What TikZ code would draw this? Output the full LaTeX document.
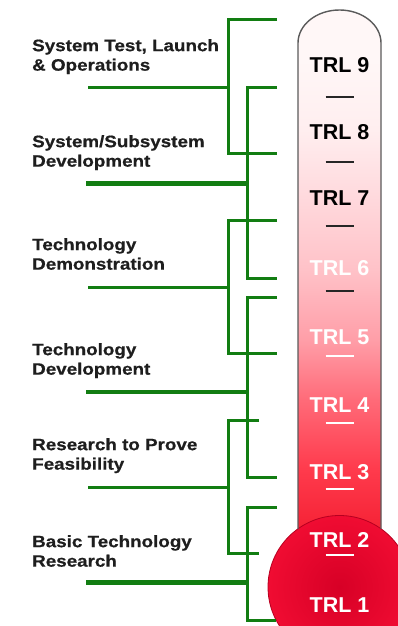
\documentclass[tikz,border=0pt]{standalone}
\usepackage{fontspec}
\newfontfamily\lblfont[FakeStretch=1.14,FakeBold=0.6]{Liberation Sans Bold}
\newfontfamily\trlfont{Liberation Sans Bold}
\definecolor{lgreen}{RGB}{18,125,18}
\definecolor{lbltext}{RGB}{30,30,30}
\definecolor{tubeA}{RGB}{255,247,247}
\definecolor{tubeB}{RGB}{255,238,239}
\definecolor{tubeC}{RGB}{255,216,220}
\definecolor{tubeD}{RGB}{255,194,200}
\definecolor{tubeE}{RGB}{255,158,168}
\definecolor{tubeF}{RGB}{255,106,120}
\definecolor{tubeG}{RGB}{255,58,76}
\definecolor{tubeH}{RGB}{245,34,53}
\definecolor{bulbIn}{RGB}{215,0,38}
\definecolor{bulbOut}{RGB}{240,12,50}
\definecolor{tubeline}{RGB}{90,90,90}
\pgfdeclareverticalshading{tubeshade}{100bp}{%
  color(0bp)=(tubeH); color(25bp)=(tubeH); color(27.7bp)=(tubeH);
  color(33.2bp)=(tubeG); color(39.5bp)=(tubeF); color(45bp)=(tubeE);
  color(51.4bp)=(tubeD); color(57.7bp)=(tubeC); color(64.1bp)=(tubeB);
  color(70.5bp)=(tubeA); color(75bp)=(tubeA); color(100bp)=(tubeA)}
\tikzset{
  gline/.style={draw=lgreen, line width=3pt, line cap=butt, line join=miter},
  gthick/.style={draw=lgreen, line width=5pt, line cap=butt},
  lbl/.style={font=\lblfont\fontsize{16.5}{19.5}\selectfont, text=lbltext, align=left, anchor=north west, inner sep=0pt},
  trl/.style={font=\trlfont\fontsize{21.5}{24}\selectfont, inner sep=0pt},
  darktrl/.style={trl, text=black},
  lighttrl/.style={trl, text=white},
  darkdash/.style={draw=black!85, line width=2.2pt},
  lightdash/.style={draw=white, line width=2.2pt}
}
\begin{document}
\begin{tikzpicture}[x=1pt, y=-1pt]
\useasboundingbox (0,0) rectangle (398,626);
\clip (0,0) rectangle (398,626);
% thermometer tube
\path[shading=tubeshade] (298,560) -- (298,43) arc[start angle=180, end angle=0, x radius=41.5pt, y radius=33pt] -- (381,560) -- cycle;
% bulb
\shade[inner color=bulbIn, outer color=bulbOut] (339.5,587) circle[radius=71.5pt];
\draw[draw=bulbIn!85!black, line width=0.8pt] (339.5,587) circle[radius=71.5pt];
% tube outline
\draw[tubeline, line width=1.4pt] (298,529) -- (298,43) arc[start angle=180, end angle=0, x radius=41.5pt, y radius=33pt] -- (381,529);
% TRL labels
\node[darktrl] (t9) at (339.5,65) {TRL 9};
\node[darktrl] (t8) at (339.5,132) {TRL 8};
\node[darktrl] (t7) at (339.5,198) {TRL 7};
\node[lighttrl] (t6) at (339.5,268) {TRL 6};
\node[lighttrl] (t5) at (339.5,337) {TRL 5};
\node[lighttrl] (t4) at (339.5,405) {TRL 4};
\node[lighttrl] (t3) at (339.5,472) {TRL 3};
\node[lighttrl] (t2) at (339.5,540) {TRL 2};
\node[lighttrl] (t1) at (339.5,605) {TRL 1};
% separators
\draw[darkdash] (325.5,97) -- (353.5,97);
\draw[darkdash] (325.5,162) -- (353.5,162);
\draw[darkdash] (325.5,226) -- (353.5,226);
\draw[darkdash] (325.5,291) -- (353.5,291);
\draw[lightdash] (325.5,356) -- (353.5,356);
\draw[lightdash] (325.5,423) -- (353.5,423);
\draw[lightdash] (325.5,489) -- (353.5,489);
\draw[lightdash] (325.5,555) -- (353.5,555);
% brackets
\draw[gline] (277,20) -- (228,20) -- (228,153) -- (277,153);
\draw[gline] (88,87) -- (228,87);
\draw[gline] (277,87) -- (247,87) -- (247,278) -- (277,278);
\draw[gthick] (86,183) -- (247,183);
\draw[gline] (277,220) -- (228,220) -- (228,353) -- (277,353);
\draw[gline] (88,287) -- (228,287);
\draw[gline] (277,297) -- (247,297) -- (247,477) -- (277,477);
\draw[gline, line width=4pt] (86,392) -- (247,392);
\draw[gline] (259,420) -- (228,420) -- (228,553) -- (259,553);
\draw[gline] (88,487) -- (228,487);
\draw[gline] (277,507) -- (247,507) -- (247,620) -- (276,620);
\draw[gthick] (86,582) -- (247,582);
% labels
\node[lbl] (l1) at (32,39) {System Test, Launch\\\& Operations};
\node[lbl] (l2) at (32,135) {System/Subsystem\\Development};
\node[lbl] (l3) at (32,238) {Technology\\Demonstration};
\node[lbl] (l4) at (32,343) {Technology\\Development};
\node[lbl] (l5) at (32,438) {Research to Prove\\Feasibility};
\node[lbl] (l6) at (32,535) {Basic Technology\\Research};
\end{tikzpicture}
\end{document}
